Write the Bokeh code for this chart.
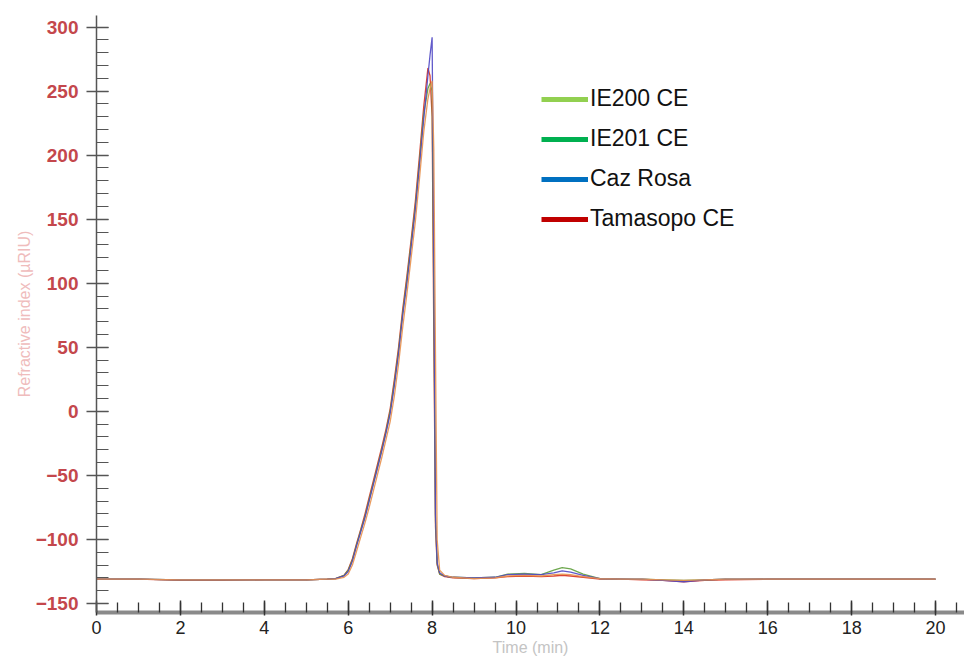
from bokeh.plotting import figure
from bokeh.models import SingleIntervalTicker, Legend, LegendItem, Range1d
from bokeh.embed import file_html
from bokeh.resources import INLINE

# ---------------- data ----------------
series_names = ["IE200 CE", "IE201 CE", "Caz Rosa", "Tamasopo CE"]
legend_colors = ["#92d050", "#00b050", "#0070c0", "#c00000"]
trace_colors = ["#e8914e", "#5e9e3c", "#5048c4", "#d8321f"]

time_min = [0, 1, 2, 3, 4, 5,
            5.5, 5.7, 5.9,
            6.0, 6.1, 6.2, 6.3, 6.4, 6.5, 6.6, 6.7, 6.8, 6.9,
            7.0, 7.1, 7.2, 7.3, 7.4, 7.5, 7.6, 7.7, 7.8, 7.9,
            7.95, 8.0, 8.04, 8.08, 8.12, 8.18, 8.3, 8.5,
            9.0, 9.5, 9.8, 10.2, 10.6, 10.9, 11.1, 11.3, 11.6, 12.0,
            12.5, 13.0, 13.5, 14.0, 14.5, 15.0,
            16, 17, 18, 19, 20]

ie200 = [-131, -131, -131.5, -131.5, -131.5, -131.5,
         -131, -131, -129.5,
         -127, -120, -109, -98, -87, -75, -62, -49, -36, -22,
         -8, 12, 37, 66, 92, 120, 148, 182, 218, 244,
         252, 258, 205, 45, -100, -124, -128, -129.5,
         -130.5, -130, -128.5, -128, -128.5, -127.5, -127, -127.5, -129, -130.5,
         -131, -131, -131.5, -132, -131.5, -131,
         -131, -131, -131, -131, -131]

ie201 = [-131, -131, -131.5, -131.5, -131.5, -131.5,
         -131, -130.5, -128,
         -124, -116, -104, -93, -82, -69, -56, -43, -30, -16,
         0, 22, 47, 77, 103, 131, 160, 195, 232, 252,
         256, 250, 90, -85, -119, -127, -128.5, -129.5,
         -130, -129.5, -127, -126.5, -127.5, -124, -122, -123, -127, -130.5,
         -131, -131, -131.5, -132, -131.5, -131,
         -131, -131, -131, -131, -131]

caz_rosa = [-131, -131, -131.5, -131.5, -131.5, -131.5,
            -131, -130.5, -128.5,
            -125, -117, -105, -94, -83, -70, -57, -44, -31, -17,
            -2, 20, 45, 75, 100, 128, 157, 192, 228, 262,
            278, 292, 120, -80, -118, -126, -128.5, -129.5,
            -130, -129.5, -127.5, -127, -127.5, -126, -124.5, -125.5, -128, -130.5,
            -131, -131, -132, -133, -131.5, -131,
            -131, -131, -131, -131, -131]

tamasopo = [-131, -131, -132, -132, -131.5, -131.5,
            -131, -130.5, -128,
            -123.5, -115, -103, -92, -80, -67, -54, -41, -28, -14,
            2, 25, 50, 80, 106, 134, 164, 200, 238, 268,
            262, 230, 60, -90, -120, -127, -129, -130,
            -130.5, -130, -129, -128.5, -129, -128.5, -128, -128.5, -129.5, -131,
            -131, -131.5, -132, -133, -132, -131.5,
            -131, -131, -131, -131, -131]

series_values = [ie200, ie201, caz_rosa, tamasopo]
draw_order = [3, 1, 2, 0]

# ---------------- figure ----------------
p = figure(width=964, height=658, output_backend="svg", toolbar_location=None,
           x_range=Range1d(0, 20.69), y_range=Range1d(-157, 309),
           min_border_left=96, min_border_right=0, min_border_top=15,
           min_border_bottom=42)
p.outline_line_color = None
p.xgrid.visible = False
p.ygrid.visible = False
p.background_fill_color = "white"

# traces
for i in draw_order:
    p.line(time_min, series_values[i], line_color=trace_colors[i],
           line_width=1.3, line_alpha=0.9)

# legend (separate key colours as in the reference)
nan = float("nan")
items = []
for name, col in zip(series_names, legend_colors):
    r = p.line(x=[nan], y=[nan], line_color=col, line_width=5)
    items.append(LegendItem(label=name, renderers=[r]))
legend = Legend(items=items, location=(445, 380), orientation="vertical",
                glyph_width=47, glyph_height=20, label_height=20, spacing=13,
                label_standoff=2, padding=0, margin=0,
                label_text_font="Liberation Sans", label_text_font_size="23px",
                label_text_color="#111111", background_fill_alpha=0,
                border_line_color=None)
p.add_layout(legend, "center")

# x axis
xa = p.xaxis[0]
xa.ticker = SingleIntervalTicker(interval=2, num_minor_ticks=4)
xa.axis_line_color = "#8a8a8a"
xa.axis_line_width = 4
xa.major_tick_line_color = "#333333"
xa.major_tick_line_width = 1.5
xa.major_tick_in = 12
xa.major_tick_out = 3
xa.minor_tick_line_color = "#333333"
xa.minor_tick_line_width = 1.3
xa.minor_tick_in = 10
xa.minor_tick_out = 0
xa.major_label_text_font = "Liberation Sans"
xa.major_label_text_font_size = "18px"
xa.major_label_text_color = "#222222"
xa.major_label_standoff = 5
xa.axis_label = "Time (min)"
xa.axis_label_text_font = "Liberation Sans"
xa.axis_label_text_font_size = "16px"
xa.axis_label_text_font_style = "normal"
xa.axis_label_text_color = "#c4c4c4"
xa.axis_label_standoff = 2

# y axis
ya = p.yaxis[0]
ya.ticker = SingleIntervalTicker(interval=50, num_minor_ticks=5)
ya.axis_line_color = "#555555"
ya.axis_line_width = 1.5
ya.major_tick_line_color = "#555555"
ya.major_tick_line_width = 1.3
ya.major_tick_in = 12
ya.major_tick_out = 10
ya.minor_tick_line_color = "#555555"
ya.minor_tick_line_width = 1.2
ya.minor_tick_in = 12
ya.minor_tick_out = 0
ya.major_label_text_font = "Liberation Sans"
ya.major_label_text_font_size = "19px"
ya.major_label_text_font_style = "bold"
ya.major_label_text_color = "#c4474c"
ya.major_label_standoff = 8
ya.axis_label = "Refractive index (µRIU)"
ya.axis_label_text_font = "Liberation Sans"
ya.axis_label_text_font_size = "16px"
ya.axis_label_text_font_style = "normal"
ya.axis_label_text_color = "#efbcbc"
ya.axis_label_standoff = 0

open("out.html", "w").write(file_html(p, INLINE))
